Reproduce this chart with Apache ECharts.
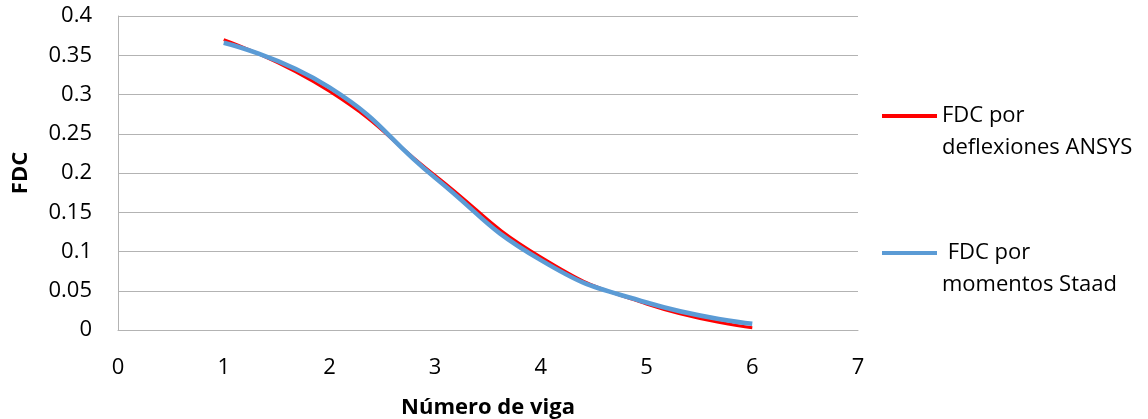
<!DOCTYPE html>
<html>
<head>
<meta charset="utf-8">
<script src="https://cdn.jsdelivr.net/npm/echarts@6/dist/echarts.min.js"></script>
<style>
  html, body { margin: 0; padding: 0; background: #fff; }
  #chart { width: 1148px; height: 419px; }
</style>
</head>
<body>
<div id="chart"></div>
<script>
// Beam number (x) and distribution factor (FDC) per method
const vigas = [1, 2, 3, 4, 5, 6];
const fdcAnsys = [0.370, 0.304, 0.197, 0.093, 0.033, 0.003];
const fdcStaad = [0.366, 0.309, 0.194, 0.089, 0.035, 0.008];
const seriesNames = ['FDC por\ndeflexiones ANSYS', ' FDC por\nmomentos Staad'];
const xTitle = 'Número de viga';
const yTitle = 'FDC';

const FONT = '"Open Sans", "Liberation Sans", sans-serif';
const GRID_COLOR = '#b3b3b3';

const chart = echarts.init(document.getElementById('chart'), null, { renderer: 'canvas' });

// Legend labels: a leading empty line keeps the swatch level with the first text line
const legendText = {
  fontFamily: FONT,
  fontSize: 22,
  color: '#000',
  lineHeight: 32
};
const legendFormatter = name => '\n' + name;

chart.setOption({
  animation: false,
  backgroundColor: '#fff',
  grid: { left: 118, right: 290, top: 16, bottom: 89, containLabel: false, outerBoundsMode: 'none' },
  xAxis: {
    type: 'value',
    min: 0, max: 7, interval: 1,
    name: xTitle,
    nameLocation: 'middle',
    nameGap: 67,
    nameTextStyle: { fontFamily: FONT, fontSize: 22, fontWeight: 'bold', color: '#000' },
    axisLine: { show: true, lineStyle: { color: GRID_COLOR, width: 1 } },
    axisTick: { show: false },
    splitLine: { show: false },
    axisLabel: { fontFamily: FONT, fontSize: 22, color: '#000', margin: 27 }
  },
  yAxis: {
    type: 'value',
    min: 0, max: 0.4, interval: 0.05,
    name: yTitle,
    nameLocation: 'middle',
    nameGap: 86,
    nameRotate: 90,
    nameTextStyle: { fontFamily: FONT, fontSize: 22, fontWeight: 'bold', color: '#000' },
    axisLine: { show: true, lineStyle: { color: GRID_COLOR, width: 1 } },
    axisTick: { show: false },
    splitLine: { show: true, lineStyle: { color: GRID_COLOR, width: 1 } },
    axisLabel: { fontFamily: FONT, fontSize: 22, color: '#000', margin: 26 }
  },
  legend: [
    {
      data: [seriesNames[0]],
      orient: 'vertical',
      left: 882, top: 68,
      padding: 0,
      icon: 'rect', itemWidth: 55, itemHeight: 4,
      formatter: legendFormatter,
      textStyle: legendText
    },
    {
      data: [seriesNames[1]],
      orient: 'vertical',
      left: 882, top: 205,
      padding: 0,
      icon: 'rect', itemWidth: 55, itemHeight: 4,
      formatter: legendFormatter,
      textStyle: legendText
    }
  ],
  series: [
    {
      name: seriesNames[0],
      type: 'line',
      smooth: 0.5,
      showSymbol: false,
      data: vigas.map((v, i) => [v, fdcAnsys[i]]),
      lineStyle: { color: '#ff0000', width: 3 },
      itemStyle: { color: '#ff0000' },
      z: 2
    },
    {
      name: seriesNames[1],
      type: 'line',
      smooth: 0.5,
      showSymbol: false,
      data: vigas.map((v, i) => [v, fdcStaad[i]]),
      lineStyle: { color: '#5b9bd5', width: 4.5 },
      itemStyle: { color: '#5b9bd5' },
      z: 3
    }
  ]
});
</script>
</body>
</html>
